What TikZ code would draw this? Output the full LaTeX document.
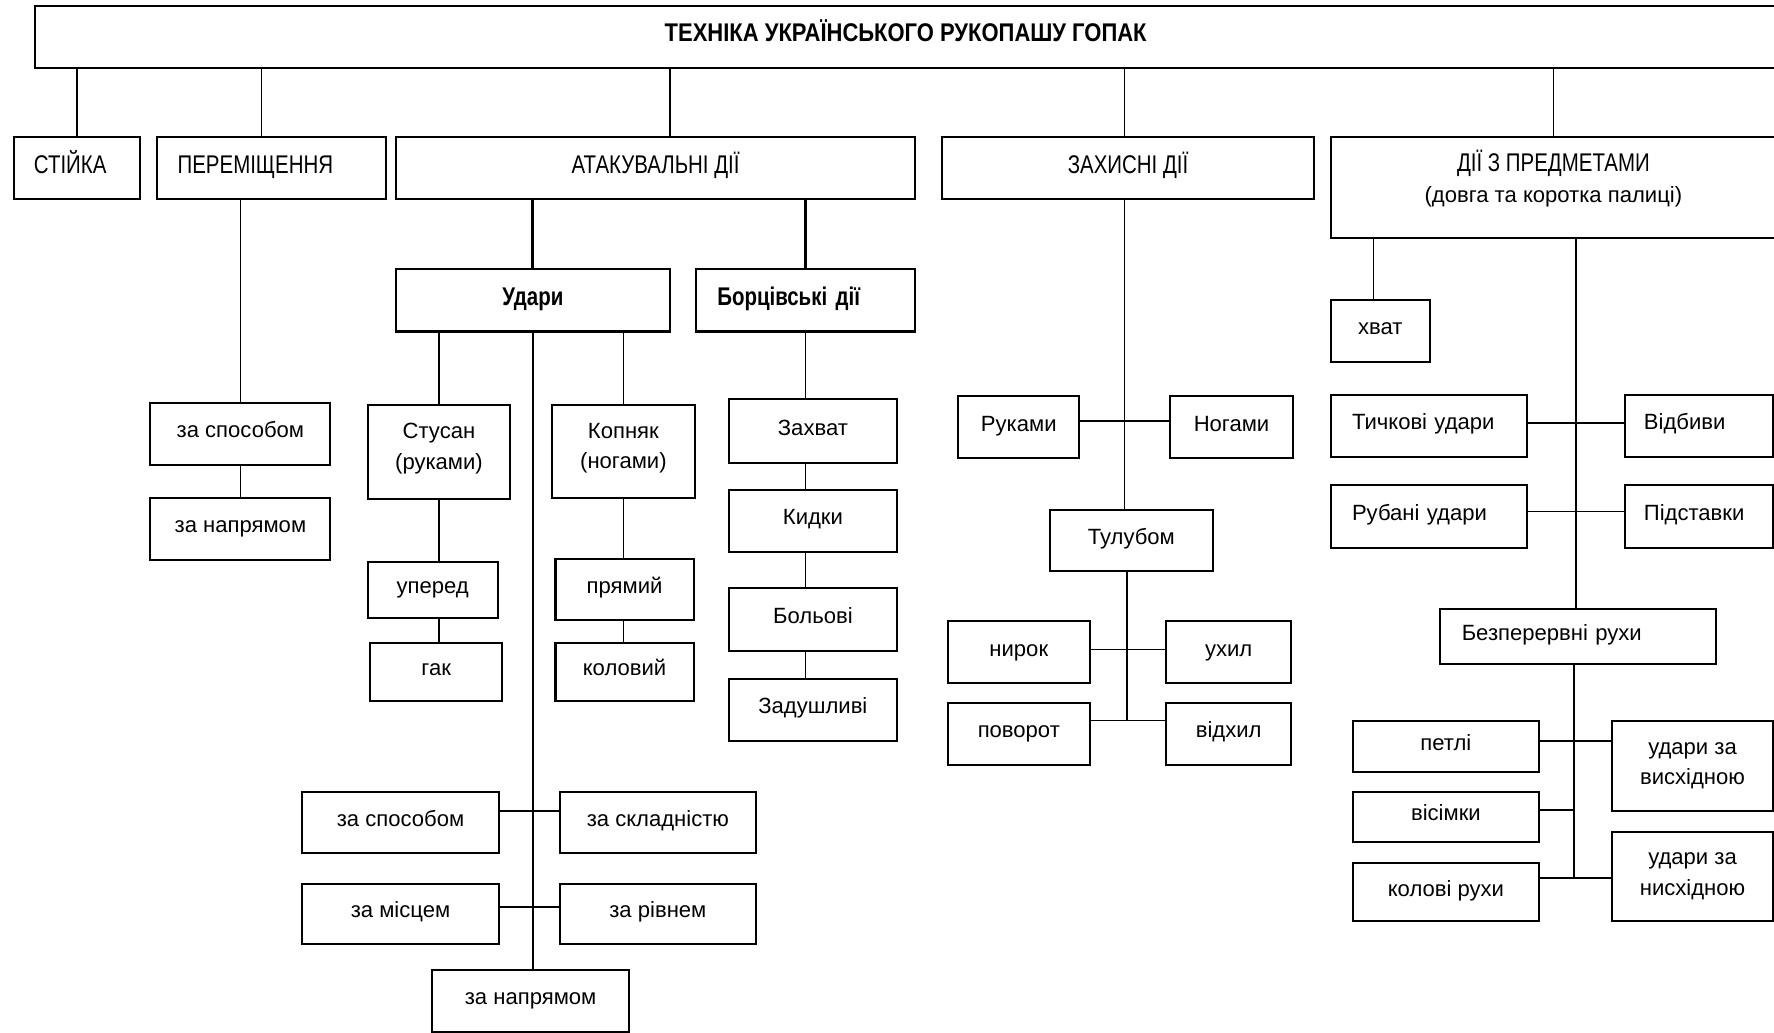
\documentclass[tikz,border=0pt]{standalone}
\usepackage{fontspec}
\setmainfont{Liberation Sans}
\newfontfamily\narrowfont[FakeStretch=0.8]{Liberation Sans}
\newfontfamily\titlefont[FakeStretch=0.86]{Liberation Sans}

\begin{document}
\begin{tikzpicture}[x=0.5pt,y=-0.5pt,
    box/.style 2 args={draw,line width=0.9pt,inner sep=0pt,align=center,
      minimum width=#1,minimum height=#2,text height=7pt,text depth=3.5pt,
      font=\fontsize{9.75pt}{13.5pt}\selectfont},
    two/.style={text height={},text depth={}},
    ltext/.style={align=left,text width=#1},
    big/.style={font=\fontsize{11.3pt}{13.5pt}\selectfont\narrowfont,
      text height=8pt,text depth=3.5pt},
    link/.style={line width=0.7pt},
    thick link/.style={line width=1.3pt}]
  \useasboundingbox (0,0) rectangle (1568,913);
  \clip (0,0) rectangle (1568,913);

  % top level
  \node[box={769.5pt}{27.5pt},big,font=\fontsize{11.3pt}{13.5pt}\selectfont\titlefont] (top)
    at (800.5,32.5) {\bfseries ТЕХНІКА УКРАЇНСЬКОГО РУКОПАШУ ГОПАК};
  \node[box={56pt}{27.5pt},big,ltext=38pt] (stiyka) at (68,148.5) {СТІЙКА};
  \node[box={101pt}{27.5pt},big,ltext=83pt] (perem) at (240,148.5) {ПЕРЕМІЩЕННЯ};
  \node[box={229.5pt}{27.5pt},big] (atak) at (579.5,148.5) {АТАКУВАЛЬНІ ДІЇ};
  \node[box={164pt}{27.5pt},big] (zakh) at (997,148.5) {ЗАХИСНІ ДІЇ};
  \node[box={197pt}{44.5pt},two] (predm) at (1373,165.5)
    {{\fontsize{11.3pt}{13.5pt}\selectfont\narrowfont ДІЇ З ПРЕДМЕТАМИ}\\(довга та коротка палиці)\\[-4pt]\mbox{}};

  % peremishchennya
  \node[box={79.5pt}{27.5pt}] (perem_s) at (212.5,383.5) {за способом};
  \node[box={79.5pt}{27.5pt}] (perem_n) at (212.5,467.5) {за напрямом};

  % atakuvalni dii
  \node[box={121pt}{27.5pt},big] (udary) at (471,265.5) {\bfseries Удари};
  \node[box={97pt}{27.5pt},big,ltext=78pt] (borts) at (712,265.5) {\bfseries Борцівські дії};
  \node[box={63pt}{41.5pt},two] (stusan) at (388,399.5) {Стусан\\(руками)\\[-8.5pt]\mbox{}};
  \node[box={63pt}{41pt},two] (kopnyak) at (551,399) {Копняк\\(ногами)\\[-8.5pt]\mbox{}};
  \node[box={57.5pt}{24.5pt}] (upered) at (382.5,521.5) {уперед};
  \node[box={58.5pt}{26pt}] (gak) at (385.5,594) {гак};
  \node[box={61pt}{27pt}] (pryamyi) at (552,521) {прямий};
  \node[box={61pt}{26pt}] (kolovyi) at (552,594) {коловий};
  \node[box={87pt}{27pt}] (u_sposib) at (354,727) {за способом};
  \node[box={86.5pt}{27pt}] (u_sklad) at (581.5,727) {за складністю};
  \node[box={87pt}{26.5pt}] (u_mists) at (354,807.5) {за місцем};
  \node[box={86.5pt}{26.5pt}] (u_riven) at (581.5,807.5) {за рівнем};
  \node[box={87pt}{27.5pt}] (u_napr) at (469,884.5) {за напрямом};
  \node[box={74.5pt}{28pt}] (zakhvat) at (718.5,381) {Захват};
  \node[box={74.5pt}{27.5pt}] (kydky) at (718.5,460.5) {Кидки};
  \node[box={74.5pt}{27.5pt}] (bolovi) at (718.5,547.5) {Больові};
  \node[box={74.5pt}{27.5pt}] (zadush) at (718.5,627.5) {Задушливі};

  % zakhysni dii
  \node[box={53.5pt}{27.5pt}] (ruk) at (900.5,377.5) {Руками};
  \node[box={54.5pt}{27.5pt}] (nog) at (1088.5,377.5) {Ногами};
  \node[box={72pt}{27pt}] (tul) at (1000,478) {Тулубом};
  \node[box={62.5pt}{27.5pt}] (nyrok) at (900.5,576.5) {нирок};
  \node[box={55pt}{27.5pt}] (ukhyl) at (1086,576.5) {ухил};
  \node[box={62.5pt}{27.5pt}] (povorot) at (900.5,648.5) {поворот};
  \node[box={55pt}{27.5pt}] (vidkhyl) at (1086,648.5) {відхил};

  % dii z predmetamy
  \node[box={44pt}{27.5pt}] (khvat) at (1220,292.5) {хват};
  \node[box={87pt}{27.5pt},ltext=68pt] (tych) at (1263,376.5) {Тичкові удари};
  \node[box={65.5pt}{27.5pt},ltext=48.5pt] (vidb) at (1501.5,376.5) {Відбиви};
  \node[box={87pt}{27.5pt},ltext=68pt] (rub) at (1263,456.5) {Рубані удари};
  \node[box={65.5pt}{27.5pt},ltext=48.5pt] (pidst) at (1501.5,456.5) {Підставки};
  \node[box={122pt}{24.5pt},ltext=103pt] (bezp) at (1395,562.5) {Безперервні рухи};
  \node[box={82pt}{22.5pt}] (petli) at (1278,659.5) {петлі};
  \node[box={71pt}{40pt},two] (vysh) at (1496,677) {удари за\\висхідною};
  \node[box={82pt}{22pt}] (visimky) at (1278,722) {вісімки};
  \node[box={82pt}{25.5pt}] (kolovi) at (1278,788.5) {колові рухи};
  \node[box={71pt}{39.5pt},two] (nysh) at (1496,774.5) {удари за\\нисхідною};

  \coordinate (pov) at ([yshift=5.75pt]povorot.east);
  \coordinate (kol) at ([yshift=6.25pt]kolovi.east);

  % connectors from the top box
  \draw[link] (stiyka.north |- top.south) -- (stiyka.north);
  \draw[link] ([xshift=-4.5pt]perem.north |- top.south) -- ([xshift=-4.5pt]perem.north);
  \draw[link] ([xshift=6.25pt]atak.north |- top.south) -- ([xshift=6.25pt]atak.north);
  \draw[link] ([xshift=-1.5pt]zakh.north |- top.south) -- ([xshift=-1.5pt]zakh.north);
  \draw[link] (predm.north |- top.south) -- (predm.north);

  \draw[link] (perem_s.north |- perem.south) -- (perem_s.north);
  \draw[link] (perem_s.south) -- (perem_n.north);

  \draw[thick link] (udary.north |- atak.south) -- (udary.north);
  \draw[thick link] (borts.north |- atak.south) -- (borts.north);
  \draw[link] (stusan.north |- udary.south) -- (stusan.north);
  \draw[link] (kopnyak.north |- udary.south) -- (kopnyak.north);
  \draw[link] (udary.south) -- (udary.south |- u_napr.north);
  \draw[link] (stusan.south) -- (stusan.south |- upered.north);
  \draw[link] (stusan.south |- upered.south) -- (stusan.south |- gak.north);
  \draw[link] (kopnyak.south) -- (kopnyak.south |- pryamyi.north);
  \draw[link] (kopnyak.south |- pryamyi.south) -- (kopnyak.south |- kolovyi.north);
  \draw[link] ([yshift=5pt]u_sposib.east) -- ([yshift=5pt]u_sklad.west);
  \draw[link] ([yshift=3pt]u_mists.east) -- ([yshift=3pt]u_riven.west);
  \draw[link] (borts.south) -- (borts.south |- zakhvat.north);
  \draw[link] (borts.south |- zakhvat.south) -- (borts.south |- kydky.north);
  \draw[link] (borts.south |- kydky.south) -- (borts.south |- bolovi.north);
  \draw[link] (borts.south |- bolovi.south) -- (borts.south |- zadush.north);

  \draw[link] ([xshift=-1.5pt]zakh.south) -- ([xshift=-1.5pt]zakh.south |- tul.north);
  \draw[link] ([yshift=2.75pt]ruk.east) -- ([yshift=2.75pt]nog.west);
  \draw[link] ([xshift=-2pt]tul.south) -- ([xshift=-2pt]tul.south |- pov);
  \draw[link] ([yshift=1.25pt]nyrok.east) -- ([yshift=1.25pt]ukhyl.west);
  \draw[link] (pov) -- (pov -| vidkhyl.west);

  \draw[link] ([xshift=-3pt]khvat.north |- predm.south) -- ([xshift=-3pt]khvat.north);
  \draw[link] ([xshift=-1pt]bezp.north |- predm.south) -- ([xshift=-1pt]bezp.north);
  \draw[link] ([yshift=1.25pt]tych.east) -- ([yshift=1.25pt]vidb.west);
  \draw[link] ([yshift=2.25pt]rub.east) -- ([yshift=2.25pt]pidst.west);
  \draw[link] ([xshift=-2pt]bezp.south) -- ([xshift=-2pt]bezp.south |- kol);
  \draw[link] ([yshift=2.25pt]petli.east) -- ([yshift=2.25pt]petli.east -| vysh.west);
  \draw[link] ([yshift=3pt]visimky.east) -- ([yshift=3pt,xshift=-2pt]visimky.east -| bezp.south);
  \draw[link] (kol) -- (kol -| nysh.west);
\end{tikzpicture}
\end{document}
